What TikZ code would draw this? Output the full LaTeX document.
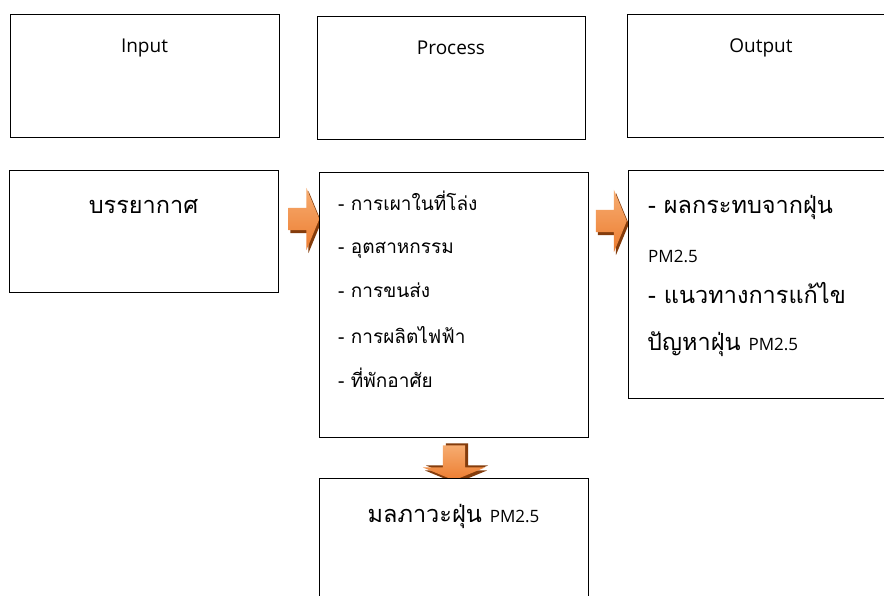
\documentclass[tikz,border=0pt]{standalone}
\usepackage{fontspec}
\setmainfont{Open Sans}
\newfontfamily\thaifont[Script=Thai]{Loma}
\usepackage{tikz}
\usetikzlibrary{positioning,shapes.arrows,shadows}
\definecolor{arroworange}{RGB}{237,125,49}
\definecolor{arrowlight}{RGB}{246,172,112}
\definecolor{arrowshadow}{RGB}{132,60,12}

\tikzset{
  box/.style={draw, line width=1.2pt, fill=white, inner sep=0pt, anchor=north west},
  headlabel/.style={font=\fontsize{19}{22}\selectfont, anchor=base},
  bigthai/.style={font=\thaifont\fontsize{23.5}{28}\selectfont, anchor=base west, inner sep=0pt},
  smallthai/.style={font=\thaifont\fontsize{19}{23}\selectfont, anchor=base west, inner sep=0pt},
  blockarrow/.style={single arrow, minimum height=31pt, minimum width=62pt,
    single arrow head extend=20pt, single arrow tip angle=135,
    inner xsep=0pt, inner ysep=11pt,
    top color=arrowlight, bottom color=arroworange,
    drop shadow={shadow xshift=2pt, shadow yshift=-3pt, fill=arrowshadow, opacity=1}}
}
\newcommand{\pmsmall}{{\rmfamily\fontsize{17}{20}\selectfont PM2.5}}

\begin{document}
\begin{tikzpicture}[x=1pt,y=-1pt]
      \path[use as bounding box, fill=white] (0,0) rectangle (884,595);

      % Headings
      \node[box, minimum width=269pt, minimum height=123pt] (inputhead) at (10,14) {};
      \node[headlabel] (inputlabel) at (144.5,52) {Input};
      \node[box, minimum width=268pt, minimum height=123pt] (processhead) at (317,16) {};
      \node[headlabel] (processlabel) at (451,54) {Process};
      \node[box, minimum width=268pt, minimum height=123pt] (outputhead) at (627,14) {};
      \node[headlabel] (outputlabel) at (761,52) {Output};

      % Input
      \node[box, minimum width=269pt, minimum height=122pt] (inputbox) at (9,170) {};
      \node[bigthai, anchor=base] (inputtext) at (143.5,213) {บรรยากาศ};

      % Arrow input -> process
      \node[blockarrow] (arrowone) at (301.5,219) {};

      % Process
      \node[box, minimum width=269pt, minimum height=265pt] (processbox) at (319,172) {};
      \node[smallthai] (sourceone) at (338,210) {- การเผาในที่โล่ง};
      \node[smallthai] (sourcetwo) at (338,253) {- อุตสาหกรรม};
      \node[smallthai] (sourcethree) at (338,297) {- การขนส่ง};
      \node[smallthai] (sourcefour) at (338,343) {- การผลิตไฟฟ้า};
      \node[smallthai] (sourcefive) at (338,387) {- ที่พักอาศัย};

      % Arrow process -> output
      \node[blockarrow] (arrowtwo) at (609,221) {};

      % Output
      \node[box, minimum width=268pt, minimum height=228pt] (outputbox) at (628,170) {};
      \node[bigthai] (effectone) at (648,213) {- ผลกระทบจากฝุ่น};
      \node[smallthai] (effecttwo) at (648,262) {\pmsmall};
      \node[bigthai] (effectthree) at (648,303) {- แนวทางการแก้ไข};
      \node[bigthai] (effectfour) at (647,350) {ปัญหาฝุ่น \pmsmall};

      % Arrow process -> result
      \node[blockarrow, minimum height=35pt, rotate=-90,
        drop shadow={shadow xshift=3pt, shadow yshift=2pt, fill=arrowshadow, opacity=1}] (arrowthree) at (454,460.5) {};

      % Result
      \node[box, minimum width=269pt, minimum height=125pt] (resultbox) at (319,478) {};
      \node[bigthai, anchor=base] (resulttext) at (453.5,522) {มลภาวะฝุ่น \pmsmall};
    \end{tikzpicture}
\end{document}
